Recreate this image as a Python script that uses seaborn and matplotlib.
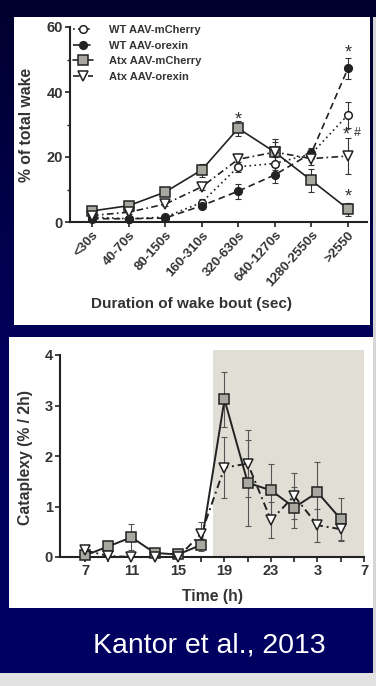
import matplotlib
matplotlib.use('agg')
import numpy as np
import pandas as pd
import seaborn as sns
import matplotlib.pyplot as plt
from matplotlib.patches import Rectangle
from matplotlib.colors import LinearSegmentedColormap

# ---- data: wake bout distribution (top panel) ----
bins = ["<30s", "40-70s", "80-150s", "160-310s", "320-630s", "640-1270s", "1280-2550s", ">2550"]
wt_mcherry = [1.5, 1.0, 1.5, 6.0, 17.0, 18.0, 21.0, 33.0]
wt_mcherry_err = [0.5, 0.5, 0.5, 1.0, 1.5, 2.0, 1.5, 4.0]
wt_orexin = [1.0, 1.0, 1.2, 5.0, 9.5, 14.5, 21.2, 47.3]
wt_orexin_err = [0.3, 0.3, 0.3, 0.8, 2.3, 2.5, 1.5, 3.3]
atx_mcherry = [3.4, 5.0, 9.2, 16.0, 28.8, 21.5, 12.8, 4.0]
atx_mcherry_err = [0.5, 0.5, 0.8, 2.0, 2.3, 3.0, 3.5, 2.0]
atx_orexin = [2.0, 3.0, 5.5, 10.8, 19.3, 21.5, 19.5, 20.3]
atx_orexin_err = [0.5, 0.5, 0.6, 1.0, 1.5, 4.0, 2.0, 5.5]

# ---- data: cataplexy over time (bottom panel) ----
hours = [7, 9, 11, 13, 15, 17, 19, 21, 23, 25, 27, 29]
cat_mcherry = [0.03, 0.21, 0.39, 0.08, 0.05, 0.24, 3.12, 1.47, 1.32, 0.98, 1.28, 0.75]
cat_mcherry_err = [0.05, 0.08, 0.26, 0.03, 0.03, 0.12, 0.54, 0.85, 0.53, 0.40, 0.60, 0.42]
cat_orexin = [0.13, 0.02, 0.0, 0.0, 0.0, 0.46, 1.77, 1.85, 0.73, 1.21, 0.63, 0.55]
cat_orexin_err = [0.05, 0.02, 0.0, 0.0, 0.0, 0.24, 0.60, 0.67, 0.35, 0.45, 0.33, 0.24]
time_ticks = [7, 11, 15, 19, 23, 27, 31]
time_labels = ["7", "11", "15", "19", "23", "3", "7"]

sns.set_style("ticks")
plt.rcParams['font.family'] = ['Liberation Sans', 'DejaVu Sans']
ink = '#222222'
txt = '#333333'
sq_face = '#a9a8a0'

W, H = 376, 686
fig = plt.figure(figsize=(W / 100, H / 100), dpi=100)

def fax(x0, y0, x1, y1):
	# pixel box (top-left origin) -> figure fraction axes
	return fig.add_axes([x0 / W, 1 - y1 / H, (x1 - x0) / W, (y1 - y0) / H])

# background slide
bg = fig.add_axes([0, 0, 1, 1])
bg.set_zorder(-5)
grad = np.linspace(0, 1, 256).reshape(-1, 1)
cmap_bg = LinearSegmentedColormap.from_list('bg', ['#00002e', '#00005a', '#000062'])
bg.imshow(grad, extent=[0, W, H, 0], aspect='auto', cmap=cmap_bg)
bg.set_xlim(0, W)
bg.set_ylim(H, 0)
bg.axis('off')
bg.add_patch(Rectangle((373, 17), 3, H, color='#d6d6d6', lw=0))
bg.add_patch(Rectangle((0, 673), W, 13, color='#e2e2e2', lw=0))
bg.add_patch(Rectangle((14, 17), 356, 308, color='white', lw=0))
bg.add_patch(Rectangle((9, 337), 364, 271, color='white', lw=0))
bg.text(209, 645, "Kantor et al., 2013", color='white', fontsize=20.5, ha='center', va='center')

def style_axes(ax):
	for s in ['top', 'right']:
		ax.spines[s].set_visible(False)
	for s in ['left', 'bottom']:
		ax.spines[s].set_linewidth(1.5)
		ax.spines[s].set_color(ink)
	ax.tick_params(width=1.2, length=3.5, color=ink, labelcolor=txt, pad=1.5)
	ax.set_facecolor('none')

# ---- top panel ----
ax1 = fax(70, 27, 367, 222)
series = [
	("WT AAV-mCherry", wt_mcherry, wt_mcherry_err, 'o', 'white', (0, (1, 2)), 5.5),
	("WT AAV-orexin", wt_orexin, wt_orexin_err, 'o', ink, (0, (4, 2.5)), 5.5),
	("Atx AAV-mCherry", atx_mcherry, atx_mcherry_err, 's', sq_face, '-', 6.5),
	("Atx AAV-orexin", atx_orexin, atx_orexin_err, 'v', 'white', (0, (4, 2, 1, 2)), 6.5),
]
pos = np.arange(len(bins))
for name, vals, err, mk, fc, ls, ms in series:
	df = pd.DataFrame({'pos': pos, 'val': vals})
	ax1.errorbar(pos, vals, yerr=err, fmt='none', ecolor=txt, elinewidth=0.8, capsize=2, capthick=0.8, zorder=2, clip_on=False)
	sns.lineplot(data=df, x='pos', y='val', ax=ax1, color=ink, marker=mk, markersize=ms,
				 markerfacecolor=fc, markeredgecolor=ink, markeredgewidth=1.1,
				 linestyle=ls, linewidth=1.2, label=name, zorder=3, clip_on=False)

ax1.set_xlim(-0.6, 7.52)
ax1.set_ylim(0, 60)
ax1.set_yticks([0, 20, 40, 60])
ax1.set_yticks([10, 30, 50], minor=True)
ax1.set_xticks(pos)
ax1.set_xticklabels(bins, rotation=48, ha='right', rotation_mode='anchor', fontsize=9.5, fontweight='bold')
for lb in ax1.get_yticklabels():
	lb.set_fontsize(10.5)
	lb.set_fontweight('bold')
style_axes(ax1)
ax1.tick_params(axis='y', which='minor', length=2, width=1, color=ink)
ax1.set_xlabel("Duration of wake bout (sec)", fontsize=11, fontweight='bold', color=txt, va='center')
ax1.xaxis.set_label_coords(0.41, -0.42)
ax1.set_ylabel("% of total wake", fontsize=11.3, fontweight='bold', color=txt, va='center')
ax1.yaxis.set_label_coords(-0.145, 0.5)
for (xp, yp, s) in [(4, 31.5, "*"), (7, 52.0, "*"), (6.95, 26.8, "*"), (7.25, 27.4, "#"), (7, 7.8, "*")]:
	ax1.text(xp, yp, s, ha='center', va='center', fontsize=13 if s == "*" else 9, color=txt)
leg = ax1.legend(loc='upper left', bbox_to_anchor=(73 / W, 1 - 25 / H), bbox_transform=fig.transFigure,
				 frameon=False, handlelength=1.8, handletextpad=1.4, labelspacing=0.5, markerscale=1.0,
				 borderpad=0, borderaxespad=0, prop={'weight': 'bold', 'size': 8})
for t in leg.get_texts():
	t.set_color(txt)

# ---- bottom panel ----
ax2 = fax(60, 355, 364, 557)
ax2.add_patch(Rectangle((18, 0), 13, 4.1, color='#e0ded5', lw=0, zorder=0, clip_on=False))
for vals, err, mk, fc, ls, ms in [
	(cat_mcherry, cat_mcherry_err, 's', sq_face, '-', 7),
	(cat_orexin, cat_orexin_err, 'v', 'white', (0, (4, 2, 1, 2)), 7),
]:
	df = pd.DataFrame({'hour': hours, 'val': vals})
	ax2.errorbar(hours, vals, yerr=err, fmt='none', ecolor='#555555', elinewidth=0.8, capsize=2, capthick=0.8, zorder=2, clip_on=False)
	sns.lineplot(data=df, x='hour', y='val', ax=ax2, color=ink, marker=mk, markersize=ms,
				 markerfacecolor=fc, markeredgecolor=ink, markeredgewidth=1.1,
				 linestyle=ls, linewidth=1.4, zorder=3, clip_on=False, legend=False)
ax2.set_xlim(4.85, 31)
ax2.set_ylim(0, 4)
ax2.set_yticks([0, 1, 2, 3, 4])
ax2.set_xticks(time_ticks)
ax2.set_xticks(hours + [31], minor=True)
ax2.set_xticklabels(time_labels, fontsize=10.5, fontweight='bold')
for lb in ax2.get_yticklabels():
	lb.set_fontsize(10.5)
	lb.set_fontweight('bold')
style_axes(ax2)
ax2.tick_params(axis='x', which='minor', length=3.5, width=1.2, color=ink)
ax2.set_xlabel("Time (h)", fontsize=11.3, fontweight='bold', color=txt, va='center')
ax2.xaxis.set_label_coords(0.5, -0.198)
ax2.set_ylabel("Cataplexy (% / 2h)", fontsize=11.3, fontweight='bold', color=txt, va='center')
ax2.yaxis.set_label_coords(-0.115, 0.495)

fig.savefig('out.png', dpi=100)
